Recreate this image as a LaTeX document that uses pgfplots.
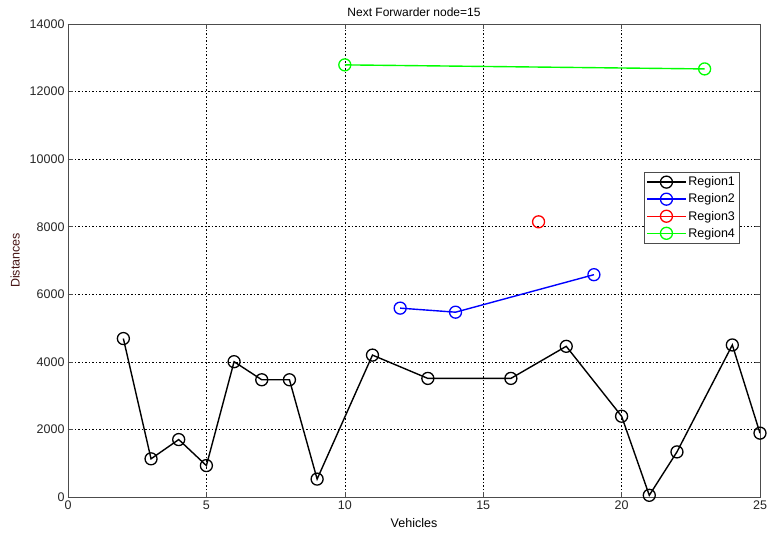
\documentclass[border=0pt]{standalone}
\usepackage{pgfplots}
\pgfplotsset{compat=1.18}
\usepackage{fontspec}
\setmainfont{Liberation Sans}
\definecolor{mgreen}{RGB}{0,255,0}
\definecolor{mblue}{RGB}{0,0,255}
\definecolor{mred}{RGB}{255,0,0}
\definecolor{labred}{RGB}{70,20,20}
\begin{document}
\begin{tikzpicture}[x=1pt,y=1pt]
\begin{axis}[
  name=main,
  scale only axis,
  width=692pt, height=473pt,
  xmin=0, xmax=25, ymin=0, ymax=14000,
  xtick={0,5,...,25},
  ytick={0,2000,...,14000},
  scaled y ticks=false,
  /pgf/number format/assume math mode=true,
  /pgf/number format/1000 sep={},
  tick label style={font=\fontsize{12.5}{14}\selectfont, text=black!85},
  tick pos=both, tick align=inside,
  major tick length=5pt,
  tick style={black!70, line width=0.6pt},
  axis line style={black!70, line width=0.8pt},
  grid=major,
  major grid style={black, line width=0.5pt, dash pattern=on 1.5pt off 2pt},
  title={Next Forwarder node=15},
  title style={font=\fontsize{12}{14}\selectfont, yshift=-2pt},
  xlabel={Vehicles},
  ylabel={Distances},
  label style={font=\fontsize{12.5}{14}\selectfont},
  xlabel style={yshift=-2pt},
  ylabel style={text=labred, yshift=3pt},
  every axis plot/.append style={line width=1.4pt, mark=o, mark size=6pt, mark options={solid, line width=1.3pt}},
  legend style={at={(0.832,0.687)}, anchor=north west, font=\fontsize{12.5}{14}\selectfont,
    draw=black!70, line width=0.6pt, inner sep=2.5pt, row sep=2.5pt},
  legend cell align=left,
  legend image code/.code={
    \draw[#1] (0cm,0cm) -- (1.35cm,0cm);
    \draw[#1, only marks] plot coordinates {(0.675cm,0cm)};
  },
]
\addplot[black] coordinates {
  (2,4690) (3,1130) (4,1700) (5,930) (6,4005) (7,3470) (8,3470) (9,530)
  (11,4200) (13,3510) (16,3510) (18,4460) (20,2390) (21,50) (22,1335)
  (24,4500) (25,1890)
};
\addlegendentry{Region1}
\addplot[mblue] coordinates {(12,5590) (14,5470) (19,6580)};
\addlegendentry{Region2}
\addplot[mred] coordinates {(17,8145)};
\addlegendentry{Region3}
\addplot[mgreen] coordinates {(10,12790) (23,12670)};
\addlegendentry{Region4}
\end{axis}
\pgfresetboundingbox
\path ([xshift=-68pt,yshift=-38pt]main.south west) rectangle ([xshift=8pt,yshift=24pt]main.north east);
\end{tikzpicture}
\end{document}
